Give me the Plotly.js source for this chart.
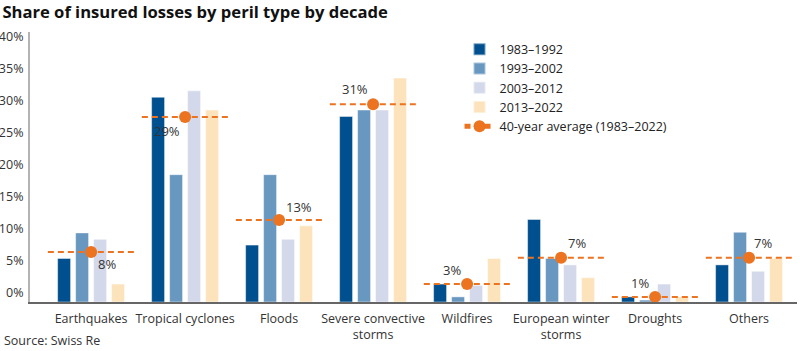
<!DOCTYPE html>
<html>
<head>
<meta charset="utf-8">
<script src="https://cdn.plot.ly/plotly-3.0.1.min.js"></script>
<style>html,body{margin:0;padding:0;background:#fff;}#chart{width:800px;height:351px;}</style>
</head>
<body>
<div id="chart"></div>
<script>
const categories = ["Earthquakes", "Tropical cyclones", "Floods", "Severe convective<br>storms", "Wildfires", "European winter<br>storms", "Droughts", "Others"];
const decades = ["1983–1992", "1993–2002", "2003–2012", "2013–2022"];
const d1983 = [6.8, 32.0, 8.9, 29.0, 2.8, 12.9, 0.8, 5.8];
const d1993 = [10.8, 19.9, 19.9, 30.0, 0.8, 6.8, 0.3, 10.9];
const d2003 = [9.8, 33.0, 9.8, 30.0, 2.6, 5.8, 2.8, 4.8];
const d2013 = [2.8, 30.0, 11.9, 35.0, 6.8, 3.8, 0.8, 6.8];
const avg40 = [7.8, 28.9, 12.8, 30.9, 2.8, 6.9, 0.8, 6.9];
const avgLabels = ["8%", "29%", "13%", "31%", "3%", "7%", "1%", "7%"];
const avgName = "40-year average (1983–2022)";
const yTicks = [0, 5, 10, 15, 20, 25, 30, 35, 40];

// styling (label offsets in px, relative to each average dot)
const colors = ["#00508f", "#6897c0", "#d3d8ea", "#fce3bb"];
const orange = "#ec7320";
const labelDx = [16, -18, 20, -18, -15, 16, -15, 14];
const labelDy = [-12, -14, 13, 15, 14, 15, 14, 15];
const font = "Open Sans, Noto Sans, DejaVu Sans, sans-serif";

const xIdx = categories.map((c, i) => i);
const series = [d1983, d1993, d2003, d2013];
const traces = series.map((vals, k) => ({
  type: "bar", x: xIdx, y: vals, name: decades[k],
  marker: {color: colors[k], line: {color: "rgba(255,255,255,0.45)", width: 1}},
  hoverinfo: "y"
}));

// average: dashed segment across each group with a dot in the middle
const half = 0.46;
const ax = [], ay = [], asz = [];
avg40.forEach((v, i) => {
  ax.push(i - half, i, i + half, null);
  ay.push(v, v, v, null);
  asz.push(0, 12, 0, 0);
});
traces.push({
  type: "scatter", mode: "lines+markers", x: ax, y: ay, name: avgName,
  line: {color: orange, width: 2, dash: "6px,4px"},
  marker: {color: orange, size: asz, opacity: 1, line: {width: 0}},
  connectgaps: false, cliponaxis: false
});

const annotations = avg40.map((v, i) => ({
  x: i, y: v, xref: "x", yref: "y", text: avgLabels[i], showarrow: false,
  xshift: labelDx[i], yshift: labelDy[i], xanchor: "center", yanchor: "middle",
  font: {family: font, size: 13, color: "#333"}
}));
annotations.push({text: "Source: Swiss Re", xref: "paper", yref: "paper",
  x: -0.0365, y: -0.144, xanchor: "left", yanchor: "middle",
  showarrow: false, font: {size: 12.5, color: "#333"}});

const layout = {
  width: 800, height: 351,
  margin: {l: 30, r: 3, t: 32, b: 49},
  paper_bgcolor: "#fff", plot_bgcolor: "#fff",
  font: {family: font, size: 12.5, color: "#333"},
  title: {text: "<b>Share of insured losses by peril type by decade</b>",
          x: 0.003, xanchor: "left", xref: "container",
          y: 0.966, yanchor: "middle", yref: "container",
          font: {family: font, size: 16.6, color: "#111"}},
  barmode: "group", bargap: 0.234, bargroupgap: 0.28,
  xaxis: {type: "linear", range: [-0.65, 7.51], tickmode: "array",
          tickvals: xIdx, ticktext: categories,
          showgrid: false, zeroline: false, showline: true,
          linecolor: "#666", linewidth: 1.5, ticks: "",
          ticklabelstandoff: 4,
          tickfont: {size: 12.5, color: "#333"}, fixedrange: true},
  yaxis: {range: [0, 42.2], tickmode: "array", tickvals: yTicks,
          ticktext: yTicks.map(t => t + "%"),
          ticklabelshift: -9, ticklabelstandoff: 2,
          showgrid: false, zeroline: false, showline: true,
          linecolor: "#b3b3b3", linewidth: 2, ticks: "",
          tickfont: {size: 12.5, color: "#333"}, fixedrange: true},
  legend: {x: 0.56, y: 0.99, xanchor: "left", yanchor: "top",
           bgcolor: "rgba(0,0,0,0)", font: {size: 12.5, color: "#222"},
           traceorder: "normal", itemsizing: "constant", tracegroupgap: 2},
  showlegend: true,
  annotations: annotations
};

Plotly.newPlot("chart", traces, layout, {displayModeBar: false, staticPlot: true});
</script>
</body>
</html>
